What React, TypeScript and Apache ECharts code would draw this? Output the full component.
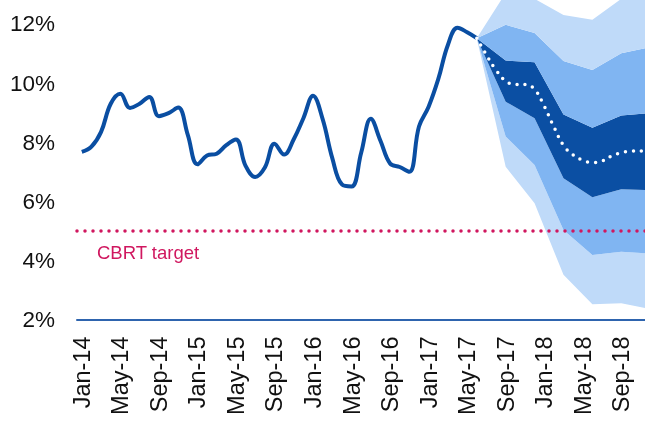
import { useEffect, useRef } from 'react';
import * as echarts from 'echarts';

const MONTHS = ['Jan', 'Feb', 'Mar', 'Apr', 'May', 'Jun', 'Jul', 'Aug', 'Sep', 'Oct', 'Nov', 'Dec'];
const YEARS = ['14', '15', '16', '17', '18'];
const categories = YEARS.flatMap((y) => MONTHS.map((m) => `${m}-${y}`));

// Annual CPI inflation, Jan-14 .. Jun-17 (%)
const inflation = [
  7.67, 7.85, 8.35, 9.3, 9.64, 9.16, 9.3, 9.53, 8.88, 8.98, 9.17, 8.25,
  7.25, 7.55, 7.61, 7.9, 8.09, 7.2, 6.82, 7.14, 7.95, 7.58, 8.1, 8.81,
  9.57, 8.78, 7.46, 6.57, 6.5, 7.64, 8.79, 8.05, 7.28, 7.16, 7.0, 8.53,
  9.2, 10.13, 11.29, 11.87, 11.72, 11.52,
];

// Central forecast path (dotted)
const forecastMonths = [
  'Jun-17', 'Jul-17', 'Aug-17', 'Sep-17', 'Oct-17', 'Nov-17', 'Dec-17',
  'Jan-18', 'Feb-18', 'Mar-18', 'Apr-18', 'May-18', 'Jun-18', 'Jul-18',
  'Aug-18', 'Sep-18', 'Oct-18', 'Nov-18', 'Dec-18',
];
const forecastCentral = [
  11.52, 10.95, 10.44, 10.07, 9.95, 9.95, 9.79,
  9.22, 8.52, 7.89, 7.57, 7.39, 7.31, 7.36,
  7.53, 7.64, 7.7, 7.7, 7.7,
];

// Fan chart bands, quarterly
const fanQuarters = ['Jun-17', 'Sep-17', 'Dec-17', 'Mar-18', 'Jun-18', 'Sep-18', 'Dec-18'];
const lightUpper = [11.52, 13.05, 12.85, 12.3, 12.14, 12.85, 13.1];
const mediumUpper = [11.52, 11.97, 11.69, 10.75, 10.44, 11.01, 11.21];
const darkUpper = [11.52, 10.76, 10.7, 8.94, 8.49, 8.9, 8.99];
const darkLower = [11.52, 9.37, 8.81, 6.78, 6.14, 6.41, 6.38];
const mediumLower = [11.52, 8.19, 7.23, 5.03, 4.18, 4.29, 4.23];
const lightLower = [11.52, 7.17, 5.93, 3.51, 2.52, 2.55, 2.35];

const cbrtTarget = 5;
const targetLabel = 'CBRT target';

const FONT = "'Liberation Sans', Arial, sans-serif";
const C_LINE = '#0a4ea2';
const C_DARK = '#0b4fa3';
const C_MED = '#80b5f2';
const C_LIGHT = '#bfdaf9';
const C_TARGET = '#d0175f';

// stacked band: thickness between two boundary lines
function band(name: string, lower: number[], upper: number[], color: string | null) {
  return {
    type: 'line',
    name,
    stack: 'fan',
    data: fanQuarters.map((q, i) => [q, color === null ? lower[i] : upper[i] - lower[i]]),
    symbol: 'none',
    silent: true,
    lineStyle: { width: 0, opacity: 0 },
    areaStyle: color === null ? { opacity: 0 } : { color, opacity: 1 },
    z: 2,
  };
}

export default function App() {
  const ref = useRef<HTMLDivElement>(null);

  useEffect(() => {
    if (!ref.current) return;
    const chart = echarts.init(ref.current, null, { renderer: 'svg' });
    chart.setOption({
      animation: false,
      grid: {
        left: 77,
        width: 578,
        top: 0,
        bottom: 103.5,
        containLabel: false,
        outerBoundsMode: 'none',
      },
      xAxis: {
        type: 'category',
        data: categories,
        boundaryGap: true,
        z: 10,
        axisLine: { show: true, lineStyle: { color: '#2e64ae', width: 2 } },
        axisTick: { show: false },
        splitLine: { show: false },
        axisLabel: {
          interval: 3,
          rotate: 90,
          margin: 17,
          fontSize: 23.5,
          color: '#111',
          fontFamily: FONT,
        },
      },
      yAxis: {
        type: 'value',
        min: 2,
        max: 12.81,
        interval: 2,
        axisLine: { show: false },
        axisTick: { show: false },
        splitLine: { show: false },
        axisLabel: {
          margin: 22,
          fontSize: 22.5,
          color: '#111',
          fontFamily: FONT,
          formatter: (v: number) =>
            Math.abs(v - Math.round(v)) < 1e-6 && Math.round(v) % 2 === 0 ? `${Math.round(v)}%` : '',
        },
      },
      graphic: [
        {
          type: 'text',
          left: 97,
          top: 243,
          style: { text: targetLabel, fill: C_TARGET, font: `18.5px ${FONT}` },
        },
      ],
      series: [
        band('base', lightLower, lightLower, null),
        band('lightLow', lightLower, mediumLower, C_LIGHT),
        band('mediumLow', mediumLower, darkLower, C_MED),
        band('dark', darkLower, darkUpper, C_DARK),
        band('mediumHigh', darkUpper, mediumUpper, C_MED),
        band('lightHigh', mediumUpper, lightUpper, C_LIGHT),
        {
          type: 'line',
          name: 'Inflation',
          data: inflation,
          smooth: 0.4,
          symbol: 'none',
          lineStyle: { color: C_LINE, width: 4 },
          z: 3,
          markLine: {
            silent: true,
            symbol: ['none', 'none'],
            label: { show: false },
            lineStyle: { color: C_TARGET, width: 3.5, type: [0, 8], cap: 'round' },
            data: [{ yAxis: cbrtTarget }],
          },
        },
        {
          type: 'line',
          name: 'Forecast',
          data: forecastMonths.map((m, i) => [m, forecastCentral[i]]),
          smooth: 0.4,
          symbol: 'none',
          lineStyle: { color: '#ffffff', width: 3.5, type: [0, 8], cap: 'round' },
          z: 4,
        },
      ],
    });
    return () => chart.dispose();
  }, []);

  return (
    <div
      ref={ref}
      style={{ position: 'fixed', left: 0, top: 0, width: 645, height: 423 }}
    />
  );
}
